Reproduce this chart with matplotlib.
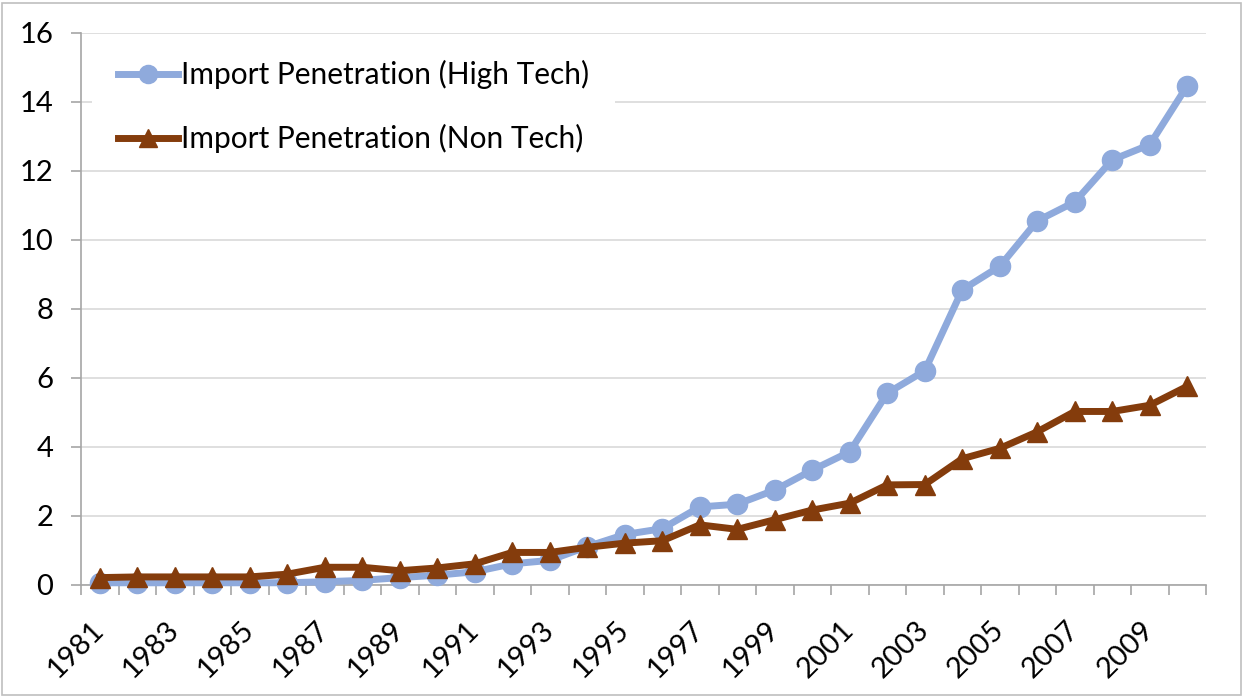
import numpy as np
import matplotlib.pyplot as plt
from matplotlib.patches import Rectangle

plt.rcParams['font.family'] = ['Lato', 'DejaVu Sans']

years = list(range(1981, 2011))

high_tech = [0.05, 0.05, 0.05, 0.05, 0.05, 0.05, 0.08, 0.12, 0.2, 0.27,
             0.37, 0.6, 0.7, 1.1, 1.45, 1.62, 2.25, 2.33, 2.74, 3.32,
             3.85, 5.55, 6.2, 8.55, 9.23, 10.55, 11.1, 12.32, 12.76, 14.47]
non_tech = [0.2, 0.22, 0.22, 0.22, 0.22, 0.3, 0.5, 0.5, 0.4, 0.48,
            0.6, 0.93, 0.93, 1.08, 1.2, 1.27, 1.73, 1.6, 1.88, 2.16,
            2.36, 2.89, 2.9, 3.65, 3.95, 4.43, 5.02, 5.02, 5.2, 5.75]

LABELS = ['Import Penetration (High Tech)', 'Import Penetration (Non Tech)']
COLS = ['#8FAADC', '#843C0C']
AXCOL = '#A6A6A6'

fig = plt.figure(figsize=(12.43, 6.96), dpi=100)
ax = fig.add_axes([81/1243, 1 - 584.5/696, 1125/1243, (584.5 - 33)/696])

x = np.arange(len(years))
ax.plot(x, high_tech, '-o', color=COLS[0], lw=5, ms=14.5,
        label=LABELS[0], zorder=3, clip_on=False)
ax.plot(x, non_tech, '-^', color=COLS[1], lw=5, ms=14.5,
        label=LABELS[1], zorder=4, clip_on=False)

ax.set_xlim(-0.5, len(years) - 0.5)
ax.set_ylim(0, 16)
ax.set_yticks(np.arange(0, 17, 2))
ax.yaxis.grid(True, color='#D9D9D9', lw=1.2)
ax.set_axisbelow(True)

# category axis: ticks on boundaries, labels every other year
ax.set_xticks(np.arange(-0.5, len(years)), minor=True)
ax.set_xticks(x[::2])
ax.set_xticklabels([str(y) for y in years[::2]], rotation=45,
                   ha='right', va='center', rotation_mode='anchor')
ax.tick_params(axis='x', which='major', length=0, pad=29.5, labelsize=21)
ax.tick_params(axis='x', which='minor', length=7, width=1.2,
               color=AXCOL, direction='out')
ax.tick_params(axis='y', length=7, width=1.2, color=AXCOL,
               labelsize=21, pad=13)

for side in ['top', 'right']:
    ax.spines[side].set_visible(False)
for side in ['left', 'bottom']:
    ax.spines[side].set_color(AXCOL)
    ax.spines[side].set_linewidth(1.2)

# white legend area hiding the gridline behind it
ax.add_patch(Rectangle((11/1125, 0.77), (615 - 92)/1125, 0.208,
                       transform=ax.transAxes, facecolor='white',
                       edgecolor='none', zorder=1))
leg = ax.legend(loc='upper left', bbox_to_anchor=(37/1125, 0.951),
                fontsize=21.5, frameon=False, borderpad=0, borderaxespad=0,
                handlelength=2.0, handletextpad=0.1, labelspacing=1.18,
                markerscale=0.9)

fig.patches.append(Rectangle((0.002, 0.002), 0.996, 0.994, transform=fig.transFigure,
                             fill=False, edgecolor='#BFBFBF', lw=1.2))

plt.savefig('out.png', dpi=100)
